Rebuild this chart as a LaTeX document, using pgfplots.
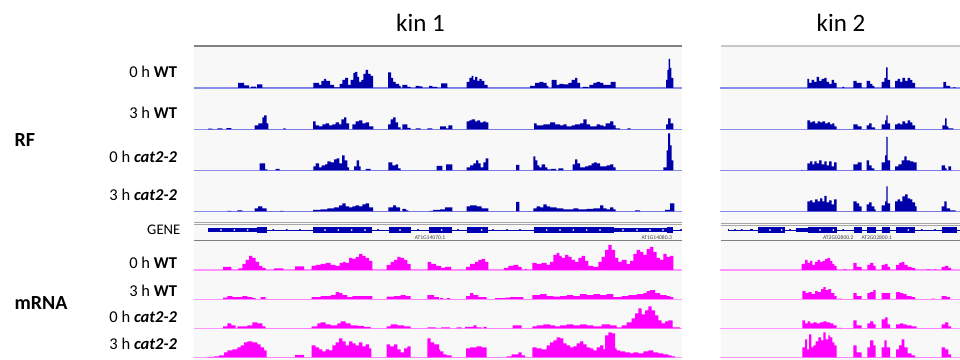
\documentclass[border=0pt]{standalone}
\usepackage{pgfplots}
\pgfplotsset{compat=1.18}
\usepackage{fontspec}
\setmainfont{Carlito}

\definecolor{rfblue}{RGB}{0,0,168}
\definecolor{rfbase}{RGB}{140,140,235}
\definecolor{mrpink}{RGB}{255,0,255}
\definecolor{mrbase}{RGB}{255,150,255}
\definecolor{genebl}{RGB}{0,0,178}
\definecolor{panelbg}{RGB}{248,248,249}

% one unit = one pixel of the figure (0.75pt)
\pgfplotsset{
  trk/.style={scale only axis, hide axis, clip=false, ymin=0, anchor=south west},
  p1/.style={xmin=194, xmax=682, width=366pt},
  p2/.style={xmin=720, xmax=960, width=180pt},
  rf/.style={ymax=40, height=30pt},
  mr/.style={ymax=28, height=21pt},
}

% coverage track: #1 panel, #2 track type, #3 position, #4 fill, #5 baseline colour, #6 steps (x, height)
\newcommand{\cov}[6]{%
  \begin{axis}[trk,#1,#2,at={(#3)}]
    \draw[#5, line width=0.8pt] (rel axis cs:0,0) -- (rel axis cs:1,0);
    \addplot[fill=#4, draw=none, const plot] coordinates {#6} \closedcycle;
  \end{axis}}

\newcommand{\lab}[2]{\node[anchor=east, font=\fontsize{12.4}{14}\selectfont] at (181.7,#1) {#2};}

\begin{document}
\begin{tikzpicture}[x=0.75pt, y=0.75pt]
\useasboundingbox (0,0) rectangle (960,360);

% panel backgrounds and frames
\fill[panelbg] (194,0) rectangle (682,313.5);
\fill[panelbg] (720.7,0) rectangle (960,313.5);
\draw[black!50, line width=1.1pt] (194,314) -- (682,314);
\draw[black!22, line width=1pt] (720.7,314) -- (960,314);

% titles
\node[anchor=base, font=\fontsize{18.75}{22}\selectfont] at (420.5,328.3) {kin 1};
\node[anchor=base, font=\fontsize{18.75}{22}\selectfont] at (841,328.3) {kin 2};

% group labels
\node[anchor=west, font=\fontsize{15}{18}\selectfont\bfseries] at (10,220) {RF};
\node[anchor=west, font=\fontsize{15}{18}\selectfont\bfseries] at (10,57) {mRNA};

% track labels
\lab{288.3}{0 h \textbf{WT}}
\lab{246.7}{3 h \textbf{WT}}
\lab{202.7}{0 h \textbf{\itshape cat2-2}}
\lab{165}{3 h \textbf{\itshape cat2-2}}
\node[anchor=east, font=\fontsize{11}{13}\selectfont] at (185,130.7) {GENE};
\lab{97.3}{0 h \textbf{WT}}
\lab{69.3}{3 h \textbf{WT}}
\lab{43.3}{0 h \textbf{\itshape cat2-2}}
\lab{16}{3 h \textbf{\itshape cat2-2}}

% ---------------- RF, kin 1 ----------------
\cov{p1}{rf}{145.5pt,204pt}{rfblue}{rfbase}{
(238,5)(244,2.7)(249,0)(251,1.3)(256,0)(257,3.5)(262.3,0)
(313.3,5)(319,3)(321.3,7)(324,9)(326,7)(330,3)(334,0.6)(339.7,4)(342.3,8)(345,10)(348,3)(350.7,8)(353.3,15)(355,16)(357.3,11)(359,6)(361.3,8)(363.3,14)(365.7,18)(368,14)(370.7,12)(373,0)
(388,15.5)(391,10)(393,6)(395.5,4)(399,2)(400.7,0)(402.3,3)(407.3,1)(410.7,0)(415.7,2)(419,1.5)(422.3,0)(429,2)(432.3,1)(437.3,0)(441,4.5)(447.3,0)
(466.7,6)(469.3,10)(471.7,12)(473.3,8)(475,11)(477.3,7)(479.3,9)(481.7,7)(484.3,3)(487.7,0)
(530,2)(535,5)(539.3,6)(543.3,5)(546.7,2)(548.3,0)(551.7,8)(556.7,3)(559.3,4)(563.3,3.5)(568.3,5)(571.7,8)(575,10)(577.3,5)(580,0)(582.7,1)(588.3,0)(589.3,3)(593.3,5)(596.7,6)(600,5)(603.3,3)(606.7,3)(610.7,6)(615.7,0)
(666,8)(667.3,18)(668.7,29)(670,20)(671.3,10)(673.3,0)}

\cov{p1}{rf}{145.5pt,173pt}{rfblue}{rfbase}{
(208,0.7)(212.3,0)(217.3,1)(222.3,0)(226.3,1.3)(231.3,0)
(254.7,4)(258.3,6)(262.3,12)(264,14)(266.7,6)(268.3,0)(283.3,1)(285.7,0)
(313,8)(315.7,4)(319,3)(322.3,5)(325.7,6)(329,4)(332.3,5)(335.7,7)(339,5)(341.3,10)(344,12)(346.3,6)(349,0)
(352.3,5)(355.7,8)(359,9)(362.3,6)(365.7,7)(369,3)(373.3,0)
(388,5)(390.7,10)(393,12)(395.7,7)(398,2)(400.7,0)(402.3,5)(407.3,1.5)(410.7,0)(415.7,1)(420.7,0)(427.3,1)(432.3,0)
(440,3)(446,1)(448.3,4)(452.3,0)
(466.7,8)(469.3,9)(471.7,10)(475,8)(477.3,9)(480,7)(483.3,8)(485.7,7)(488.3,0)
(534,6)(536.7,4)(543.3,5)(550,7)(555,5)(560,4)(563.3,5)(566.7,3)(571.7,4)(575,5)(580,6)(583.3,10)(586.7,5)(590,3)(596.7,5)(600,4)(603.3,3)(605.7,6)(610,8)(613.3,4)(615.7,1)(620,0)(627.3,1)(630.7,0)
(666,5)(668,11)(670.7,6)(673.3,0)}

\cov{p1}{rf}{145.5pt,142.3pt}{rfblue}{rfbase}{
(259.7,7)(265,1)(267.3,0)(275.7,1.5)(279.7,0)
(313.3,4)(315.7,7)(319,3)(321.7,5)(325,6)(327.3,9)(330.7,8)(334,11)(336.7,12)(339.3,7)(342,15)(344.7,10)(347.3,3)(349,0)
(354,4)(356.7,10)(359,4)(360.7,0)(365.7,1.5)(370.7,0)
(388.3,8)(392.3,5)(395.7,6)(398,2)(400.7,0)
(436.7,4.3)(442.3,0)(446,6)(452.3,0)
(466.7,3)(470,5)(473.3,7)(476,10)(478.3,7)(480.7,3)(483.3,8)(485.7,12)(488.3,0)
(516,5.5)(519.3,0)
(533.3,14)(535.3,10)(537.3,5)(539.3,3)(541.7,6)(545,3)(547.3,1)(550,0)(550.7,1.5)(556,0)(558.3,2)(563.3,0)
(572.7,6)(575,11)(577.3,7)(580,3)(585,4)(588.3,5)(591.7,7)(594,8)(596.7,7)(600,4)(603.3,4)(606.7,5)(610,6)(613.3,3)(615.7,0)
(663.3,3)(666.7,20)(668,37)(670,25)(671.7,10)(673.3,0)}

\cov{p1}{rf}{145.5pt,111.4pt}{rfblue}{rfbase}{
(227.3,0.5)(231.3,0)(237.3,1)(242.3,0)(254.7,3)(258,5)(262.3,3)(266.7,0)(280,0.5)(283.3,0)
(313,1.5)(320.7,2)(327.3,3)(334,4)(339,6)(342.3,8)(345.7,5)(349,4)(352.3,5)(355.7,6)(359,5)(362.3,7)(365.7,8)(369,4)(373,0)
(388.3,4)(393,6)(396,4)(400,0)(402.3,2.5)(406,1)(408.3,0)(429,0.5)(433,1.5)(440,2)(445,4)(452.3,0)
(466.7,5)(470,6)(476.7,5)(481.7,3)(488.3,0)
(516,9.7)(519.3,0)
(533.3,3)(536.7,5)(540,4)(543.3,7)(546.7,5)(550,4)(556.7,3)(563.3,2)(573.3,3)(578.3,2)(586.7,2.5)(593.3,3)(600,6)(603.3,3)(606.7,2)(610,4)(613.3,2)(615.7,0)
(635,1)(640,0)
(665,1.5)(670,8)(674.3,0)}

% ---------------- RF, kin 2 ----------------
\cov{p2}{rf}{540pt,204pt}{rfblue}{rfbase}{
(807.3,9)(809,5)(811.7,8)(814,6)(816.7,11)(819,7)(821.7,9)(824.3,10)(826.7,6)(829,4)(831.7,8)(834,5)(836.7,0)
(842.3,1)(844,0)
(853.3,7)(856.7,5)(861.7,0)
(866.7,7)(870,4)(872.3,2)(874.3,0)
(881.7,6)(884.3,10)(886,20.5)(887.7,8)(890,0)
(895,7)(897.7,9)(900,6)(902.3,10)(905,7)(907.7,10)(910,8)(912.3,5)(915,0)
(943.3,6)(946,2)(950,0)(953.3,0.5)(955.7,0)}

\cov{p2}{rf}{540pt,173pt}{rfblue}{rfbase}{
(807.3,9)(810,7)(812.3,8)(815,6)(817.7,8)(820,7)(822.3,8)(825,6)(827.7,7)(830,5)(832.3,6)(834.3,3)(836.7,0)
(853.3,5)(857.7,3)(861.7,0)
(866.7,4)(869,6)(871.7,2)(875,0)
(881.7,5)(885,9)(886.3,14)(887.7,6)(890,0)
(895,5)(897.7,6)(900,5)(902.3,8)(905,6)(907.7,9)(910,7)(912.3,4)(915,0)
(942.3,4)(945,11)(946.7,3)(948.3,1)(953.3,0)}

\cov{p2}{rf}{540pt,142.3pt}{rfblue}{rfbase}{
(801,0.5)(802.3,0)
(807.3,7)(810,9)(812.3,6)(814.3,9)(816.7,7)(819,10)(821.7,6)(824.3,9)(826.7,5)(829,9)(831.7,4)(834,8)(836.7,0)
(853.3,6)(857.7,8)(861.7,0)
(866.7,10)(869,5)(871.7,2)(874.3,0)
(881.7,8)(885,15)(886.3,33.5)(887.7,10)(890,0)
(895,4)(898.3,6)(901.7,10)(904.3,14)(906.7,10)(910,9)(913.3,8)(916.7,0)
(941.7,5)(945,2)(946.7,0)(948.3,4)(951,0)}

\cov{p2}{rf}{540pt,111.4pt}{rfblue}{rfbase}{
(807.3,10)(810,11)(812.3,9)(815,12)(817.7,10)(820,13)(822.3,10)(824.3,15.5)(826.7,9)(829,11)(831.7,7)(834,12)(836.7,0)
(853.3,10)(856.7,8)(859,5)(861.7,0)
(866.7,7)(869,9)(871.7,5)(874.3,2)(875.7,0)
(881.7,6)(885,10)(886.3,25)(887.7,8)(890,0)
(895,10)(897.7,12)(900,10)(902.3,15)(905,17)(907.7,13)(910,12)(912.3,9)(915,5)(916.7,0)
(941.7,5)(944.3,10)(946.7,3)(950,1)(955.7,0)}

% ---------------- gene models ----------------
\draw[black!35, line width=0.45pt] (194,137.7) -- (682,137.7) (194,135.7) -- (682,135.7);
\draw[black!50, line width=1.1pt] (194,119.7) -- (682,119.7);
\draw[black!35, line width=0.45pt] (720.7,136.7) -- (960,136.7) (720.7,135) -- (960,135);
\draw[black!50, line width=1.1pt] (720.7,119.7) -- (960,119.7);

\begin{axis}[trk, p1, ymin=-5, ymax=5, height=7.5pt, at={(145.5pt,93.75pt)}]
  \addplot[genebl, line width=0.5pt] coordinates {(208.3,0)(681.7,0)};
  \addplot[genebl, line width=2.5pt, unbounded coords=jump] coordinates {(208.3,0)(256.7,0)(260,nan)(614,0)(667.3,0)};
  \addplot[genebl, line width=4.5pt, unbounded coords=jump] coordinates {
    (256.7,0)(267.3,0)(290,nan)(313.3,0)(372,0)(380,nan)(388.7,0)(411.3,0)(420,nan)
    (429,0)(452,0)(460,nan)(467,0)(487.7,0)(500,nan)(534,0)(614,0)(640,nan)(667.3,0)(673.3,0)};
  \addplot[genebl, only marks, mark=*, mark size=0.55pt] coordinates {
    (273.3,0)(286.7,0)(300,0)(378,0)(418,0)(458,0)(493,0)(507,0)(520,0)(681,0)};
  \addplot[white, only marks, mark=*, mark size=0.4pt] coordinates {
    (221,0)(234.3,0)(247.7,0)(325,0)(338.3,0)(351.7,0)(365,0)(400,0)(441.7,0)(481.7,0)
    (546.7,0)(560,0)(573.3,0)(586.7,0)(600,0)(623,0)(637,0)(650,0)(663,0)};
\end{axis}
\node[font=\fontsize{4.2}{5}\selectfont, text=black!75] at (430,122.7) {AT1G14070.1};
\node[font=\fontsize{4.2}{5}\selectfont, text=black!75] at (656.7,122.7) {AT1G14080.3};

\begin{axis}[trk, p2, ymin=-5, ymax=5, height=7.5pt, at={(540pt,93.75pt)}]
  \addplot[genebl, line width=0.5pt] coordinates {(728.3,0)(960,0)};
  \addplot[genebl, line width=2.5pt] coordinates {(796,0)(808.3,0)};
  \addplot[genebl, line width=1.8pt, unbounded coords=jump] coordinates {(728,0)(729,0)(740,nan)(750,0)(752.7,0)};
  \addplot[genebl, line width=4.5pt, unbounded coords=jump] coordinates {
    (758.3,0)(785,0)(790,nan)(808.3,0)(836.7,0)(845,nan)(854,0)(861.7,0)(863,nan)
    (866.7,0)(875.7,0)(878,nan)(881.7,0)(890,0)(892,nan)(895.7,0)(915,0)(930,nan)(942.3,0)(956.7,0)};
  \addplot[genebl, only marks, mark=*, mark size=0.55pt] coordinates {
    (735,0)(741.7,0)(790,0)(843.3,0)(921.7,0)(935,0)};
  \addplot[white, only marks, mark=*, mark size=0.4pt] coordinates {
    (770,0)(781.7,0)(820,0)(833.3,0)(908.3,0)};
\end{axis}
\node[font=\fontsize{4.2}{5}\selectfont, text=black!75] at (838.3,122.7) {AT2G02800.2};
\node[font=\fontsize{4.2}{5}\selectfont, text=black!75] at (876.7,122.7) {AT2G02800.1};

% ---------------- mRNA, kin 1 ----------------
\cov{p1}{mr}{145.5pt,67.5pt}{mrpink}{mrbase}{
(223,3)(231.3,0)
(238.3,1.5)(242.3,6)(245.7,10)(249,14)(252.3,12)(255.7,8)(259,4)(262.3,2)(265.7,0)
(274,1.5)(283.3,0)(295,3.5)(304,0)
(311.7,4)(315.7,5)(320.7,6)(325.7,7)(330.7,5)(335.7,4)(339.7,7)(343,8)(345.7,7)(349,12)(352.3,11)(355.7,13)(359,16)(362.3,14)(365.7,12)(369,9)(372.3,0)
(386.7,5)(390.7,8)(394,10)(397.3,13)(400.7,12)(404,10)(407.3,6)(410.7,0)
(427.5,8)(431,6)(436,4)(441,2)(445,3)(451,0)
(466,3)(470,6)(475,8)(478.3,10)(481.7,11)(485,8)(488.3,0)
(504,2)(508.3,4)(513.3,5)(518.3,3)(521.7,0)(525,1)(526.7,0)
(532.3,7)(536.7,6)(541.7,7)(546.7,5)(550,8)(553.3,15)(556.7,17)(559.3,14)(561.7,12)(565,15)(568.3,13)(571.7,10)(575,8)(578.3,12)(581.7,14)(585,9)(588.3,4)(593.3,3)(598.3,8)(601.7,13)(605,20)(608.3,25)(611.7,20)(615,12)(618.3,8)(621.7,10)(626.7,6)(630,9)(633.3,16)(636.7,20)(640,18)(643.3,15)(646.7,21)(650,23)(653.3,18)(656.7,12)(660,10)(663.3,16)(666.7,13)(670,14)(673.3,0)}

\cov{p1}{mr}{145.5pt,45.6pt}{mrpink}{mrbase}{
(223,1.5)(227.3,3)(232.3,2)(242.3,3)(247.3,2)(252.3,1)(255.7,0)(260.7,2)(265.7,0)
(311.7,2)(320.7,3)(330.7,4)(335.7,7)(339,6)(342.3,4)(347.3,2)(352.3,3)(372.3,0)
(386.7,2.5)(394,3)(400.7,4)(405.7,3)(410.7,0)
(427.3,4)(434,2)(439,0)(440,1)(443.3,0)(446.7,1)(450,0)
(466,3)(470,6)(473.3,4)(478.3,2)(486.7,0)
(495,1)(505,1.5)(510,2)(523.3,0)
(532.3,4)(540,5)(546.7,3)(553.3,2.5)(560,3)(566.7,4)(573.3,3)(580,5)(586.7,4)(593.3,5)(600,4)(606.7,5)(613.3,2)(621.7,3)(628.3,4)(636.7,5)(643.3,6)(646.7,8)(650,9)(655,6)(660,4)(666.7,3)(670,2)(673.3,0)}

\cov{p1}{mr}{145.5pt,23.8pt}{mrpink}{mrbase}{
(223,2)(227.3,5)(231.3,3)(235.7,0)(237.3,2)(247.3,3)(252.3,6)(257.3,5)(262.3,2)(265.7,0)
(311.7,2)(317.3,5)(320.7,6)(325.7,4)(330.7,3)(337.3,5)(340.7,7)(345.7,5)(350.7,3)(357.3,2.5)(364,1.5)(370.7,0)
(386.7,2)(390.7,4)(397.3,3)(404,2)(410.7,0)
(427.3,1)(436,0)(441,1)(450,0)(456.7,1)(461.7,0)(465,1.5)(473.3,3)(476.7,1)(481.7,0)(483.3,1.5)(486.7,0)
(512.7,3)(521.7,0)
(532.3,2)(536.7,3)(543.3,4)(550,3)(555,2)(560,3)(566.7,4)(573.3,3)(580,4)(586.7,3)(593.3,2)(601.7,4)(610,3)(616.7,1)(621.7,3)(626.7,6)(631.7,10)(635,15)(638.3,20)(641.7,14)(645,18)(648.3,22)(651.7,18)(655,13)(658.3,8)(661.7,5)(665,7)(668.3,8)(672.7,1)(680,0)}

\cov{p1}{mr}{145.5pt,2pt}{mrpink}{mrbase}{
(207.3,0.5)(214,1)(219,2)(224,5)(227.3,7)(232.3,8)(237.3,10)(240.7,12)(244,15)(247.3,16)(252.3,15)(257.3,13)(260.7,10)(264,7)(266.7,0)
(295,2.5)(304,0)
(311.7,12)(315.7,10)(319,8)(322.3,6)(325.7,8)(329,7)(332.3,12)(335.7,15)(339,19)(342.3,16)(345.7,12)(349,16)(352.3,14)(355.7,12)(359,15)(362.3,11)(365.7,13)(369,9)(371.3,0)
(386.7,13)(390,11)(394,13)(397.3,8)(400.7,5)(404,9)(407.3,11)(410.7,0)
(427.3,19)(430.7,15)(434,13)(439,8)(440,6)(443.3,3)(446.7,2)(451.7,0)
(466,9)(470,10)(476.7,11)(481.7,10)(486.7,0)
(506.7,1)(511.7,3)(518.3,5)(521.7,2)(525,0)
(532.3,10)(536.7,9)(541.7,8)(546.7,12)(550,15)(553.3,17)(556.7,20)(560,19)(563.3,14)(566.7,12)(570,10)(573.3,11)(576.7,14)(580,16)(583.3,13)(586.7,10)(590,9)(593.3,7)(596.7,10)(600,12)(603.3,8)(605,22)(608.3,25)(611.7,24)(615,9)(616.7,7)(620,6)(625,5)(630,4)(633.3,5)(638.3,4)(643.3,6)(648.3,7)(653.3,5)(658.3,4)(663.3,3)(668.3,2)(671.7,1)(675,0)}

% ---------------- mRNA, kin 2 ----------------
\cov{p2}{mr}{540pt,67.5pt}{mrpink}{mrbase}{
(801.7,6)(805,10)(807.7,7)(810,9)(812.3,5)(815,8)(817.7,10)(820,8)(822.3,9)(825,11)(827.7,12)(830,9)(832.3,6)(834.3,4)(836.7,0)
(843.3,0.5)(846.7,0)
(853.3,7)(856.7,3)(861.7,0)
(867.3,5)(870,7)(873.3,4)(875.7,0)
(881.7,5)(885,6)(887.7,3)(890,0)
(896,5)(899,7)(901.7,8)(904.3,5)(907.7,3)(911.7,2)(915,0)
(926.7,0.5)(930,0)(933.3,0.5)(936.7,0)
(941.7,3)(945,4)(948.3,2)(951,0)}

\cov{p2}{mr}{540pt,45.6pt}{mrpink}{mrbase}{
(802.3,8)(805.7,6)(808.3,7)(811.7,5)(815,8)(817.7,7)(821,10)(823.3,12)(825.7,9)(828.3,10)(831,6)(834.3,3)(836.7,0)
(838.3,0.5)(841.7,0)
(853.3,6)(856.7,3)(861.7,0)
(867.3,6)(870,7)(873.3,9)(875.7,0)
(881.7,6)(890,0)
(896,7)(900,6)(903.3,5)(906.7,3)(911.7,2)(915,0)
(931.7,0.5)(935,0)
(941.7,3)(946.7,2)(950,0)}

\cov{p2}{mr}{540pt,23.8pt}{mrpink}{mrbase}{
(802.3,8)(805,5)(807.7,7)(810,5)(813.3,6)(816.7,5)(820,6)(823.3,7)(826.7,6)(830,5)(833.3,3)(836.7,0)
(838.3,0.5)(841.7,0)
(853.3,8)(856.7,3)(861.7,0)
(867.3,5)(870,7)(873.3,4)(875.7,0)
(881.7,9)(885,11)(887.7,4)(890,0)
(896,4)(900,5)(903.3,4)(906.7,3)(911.7,2)(916.7,0)
(941.7,4)(945,6)(948.3,2)(951,0)}

\cov{p2}{mr}{540pt,2pt}{mrpink}{mrbase}{
(802.3,10)(805,18)(807,8)(809,23)(811.3,10)(813.3,12)(815.7,16)(818.3,20)(821,17)(823.3,25)(825.7,18)(828.3,22)(830,20)(832.3,15)(834.3,12)(836.7,0)
(853.3,12)(856.7,5)(861.7,0)
(867.3,10)(870,17)(873.3,12)(875.7,0)
(881.7,10)(884.3,17)(886.7,10)(890,0)
(896,8)(899,12)(901.7,18)(904.3,10)(907.7,4)(911.7,2)(915,0)
(941.7,10)(945,8)(948.3,3)(951,0)}

\end{tikzpicture}
\end{document}
